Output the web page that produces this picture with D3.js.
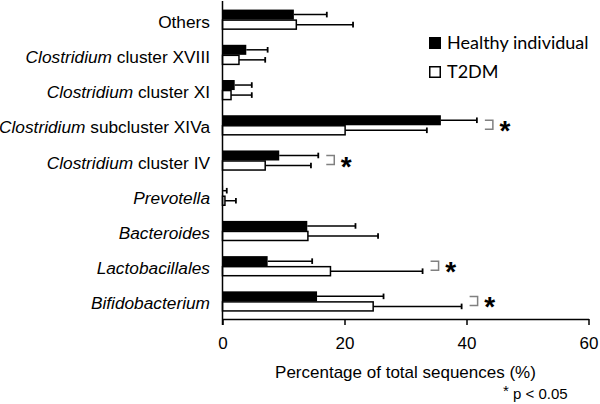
<!DOCTYPE html>
<html><head><meta charset="utf-8">
<script src="https://cdn.jsdelivr.net/npm/d3@7"></script>
<style>body{margin:0;background:#fff}svg{display:block}</style>
</head><body>
<svg id="chart" width="600" height="404"></svg>
<script>
// Categories (top to bottom); italic part + plain part
const categories = ["Others","Clostridium cluster XVIII","Clostridium cluster XI","Clostridium subcluster XIVa","Clostridium cluster IV","Prevotella","Bacteroides","Lactobacillales","Bifidobacterium"];
const italicParts = ["","Clostridium","Clostridium","Clostridium","Clostridium","Prevotella","Bacteroides","Lactobacillales","Bifidobacterium"];
const plainParts = ["Others"," cluster XVIII"," cluster XI"," subcluster XIVa"," cluster IV","","","",""];
const seriesNames = ["Healthy individual","T2DM"];
const healthyMean = [11.7, 3.9, 2.0, 35.8, 9.3, 0.1, 13.9, 7.4, 15.5];
const healthySD   = [5.4, 3.5, 2.8, 5.9, 6.4, 0.6, 7.9, 7.3, 10.9];
const t2dmMean    = [12.1, 2.7, 1.4, 20.1, 7.0, 0.4, 14.0, 17.7, 24.7];
const t2dmSD      = [9.3, 4.3, 3.4, 13.4, 7.5, 1.8, 11.5, 15.1, 14.5];
const significant = ["Clostridium subcluster XIVa","Clostridium cluster IV","Lactobacillales","Bifidobacterium"];
const xTicks = [0, 20, 40, 60];

const svg = d3.select("#chart");
const font = "'Liberation Sans', Arial, sans-serif";

const x = d3.scaleLinear().domain([0, 60]).range([222.5, 588.5]);
const y = d3.scaleBand().domain(categories).range([2, 319]).paddingInner(0.43).paddingOuter(0.215);
const ySub = d3.scaleBand().domain(seriesNames).range([0, y.bandwidth()]);

const data = categories.map((c, i) => ({
  cat: c,
  vals: [
    {s: seriesNames[0], m: healthyMean[i], sd: healthySD[i]},
    {s: seriesNames[1], m: t2dmMean[i], sd: t2dmSD[i]}
  ]
}));

const groups = svg.selectAll("g.cat").data(data).join("g")
  .attr("class", "cat")
  .attr("transform", d => `translate(0,${y(d.cat)})`);

// error bars
groups.each(function(d) {
  const g = d3.select(this);
  d.vals.forEach(v => {
    const cy = ySub(v.s) + ySub.bandwidth() / 2;
    g.append("line").attr("x1", x(v.m)).attr("x2", x(v.m + v.sd))
      .attr("y1", cy).attr("y2", cy).attr("stroke", "#000").attr("stroke-width", 1.5);
    g.append("line").attr("x1", x(v.m + v.sd)).attr("x2", x(v.m + v.sd))
      .attr("y1", cy - 2.8).attr("y2", cy + 2.8).attr("stroke", "#000").attr("stroke-width", 1.8);
  });
});

groups.selectAll("rect").data(d => d.vals).join("rect")
  .attr("x", x(0))
  .attr("y", v => ySub(v.s) + (v.s === seriesNames[1] ? 0.5 : 0))
  .attr("height", v => ySub.bandwidth() - (v.s === seriesNames[1] ? 1 : 0))
  .attr("width", v => x(v.m) - x(0))
  .attr("fill", v => v.s === seriesNames[0] ? "#000" : "#fff")
  .attr("stroke", v => v.s === seriesNames[0] ? "none" : "#000")
  .attr("stroke-width", 1.5);

// x axis
const xAxis = d3.axisBottom(x).tickValues(xTicks).tickSize(6).tickSizeOuter(0).tickPadding(12);
const gx = svg.append("g").attr("transform", "translate(0,319)").call(xAxis);
gx.select(".domain").attr("stroke", "#000").attr("stroke-width", 1.5);
gx.selectAll(".tick line").attr("stroke", "#000").attr("stroke-width", 1.5);
gx.selectAll(".tick text").attr("font-family", font).attr("font-size", 17).attr("fill", "#000");

// y axis
const yAxis = d3.axisLeft(y).tickSize(0).tickFormat("");
const gy = svg.append("g").attr("transform", `translate(${x(0)},0)`).call(yAxis);
gy.select(".domain").attr("stroke", "#000").attr("stroke-width", 1.5).attr("d", `M0,1V325`);

// category labels
const labels = svg.selectAll("text.cl").data(categories).join("text")
  .attr("class", "cl")
  .attr("x", 210)
  .attr("y", c => y(c) + y.bandwidth() / 2 + 8)
  .attr("text-anchor", "end")
  .attr("font-family", font).attr("font-size", 17.3).attr("fill", "#000");
labels.each(function(c, i) {
  const t = d3.select(this);
  if (italicParts[i]) t.append("tspan").attr("font-style", "italic").text(italicParts[i]);
  if (plainParts[i]) t.append("tspan").text(plainParts[i]);
});

// significance markers
const sigData = data.filter(d => significant.includes(d.cat));
sigData.forEach(d => {
  const maxEnd = d3.max(d.vals, v => x(v.m + v.sd));
  const cy = y(d.cat) + y.bandwidth() / 2;
  const bx = maxEnd + 8;
  svg.append("path")
    .attr("d", `M${bx},${cy - 5}H${bx + 8}V${cy + 4}H${bx}`)
    .attr("fill", "none").attr("stroke", "#808080").attr("stroke-width", 1.5);
  svg.append("text").attr("x", bx + 20).attr("y", cy + 15)
    .attr("text-anchor", "middle")
    .attr("font-family", font).attr("font-weight", "bold").attr("font-size", 28)
    .text("*");
});

// axis title
svg.append("text").attr("x", x(30)).attr("y", 378).attr("text-anchor", "middle")
  .attr("font-family", font).attr("font-size", 17).text("Percentage of total sequences (%)");

// footnote
const fn = svg.append("text").attr("x", 503).attr("y", 399)
  .attr("font-family", font).attr("font-size", 15);
fn.append("tspan").attr("dy", -3).text("*");
fn.append("tspan").attr("dy", 3).text(" p < 0.05");

// legend
const legendFont = "Lato, 'Open Sans', sans-serif";
const leg = svg.selectAll("g.leg").data(seriesNames).join("g").attr("class", "leg")
  .attr("transform", (d, i) => `translate(429,${37 + i * 29})`);
leg.append("rect").attr("x", 0.75).attr("y", 0.75).attr("width", 10.5).attr("height", 10.5)
  .attr("fill", (d, i) => i === 0 ? "#000" : "#fff").attr("stroke", "#000").attr("stroke-width", 1.5);
leg.append("text").attr("x", 18).attr("y", 11.5)
  .attr("font-family", legendFont).attr("font-size", 18).text(d => d);
</script>
</body></html>
